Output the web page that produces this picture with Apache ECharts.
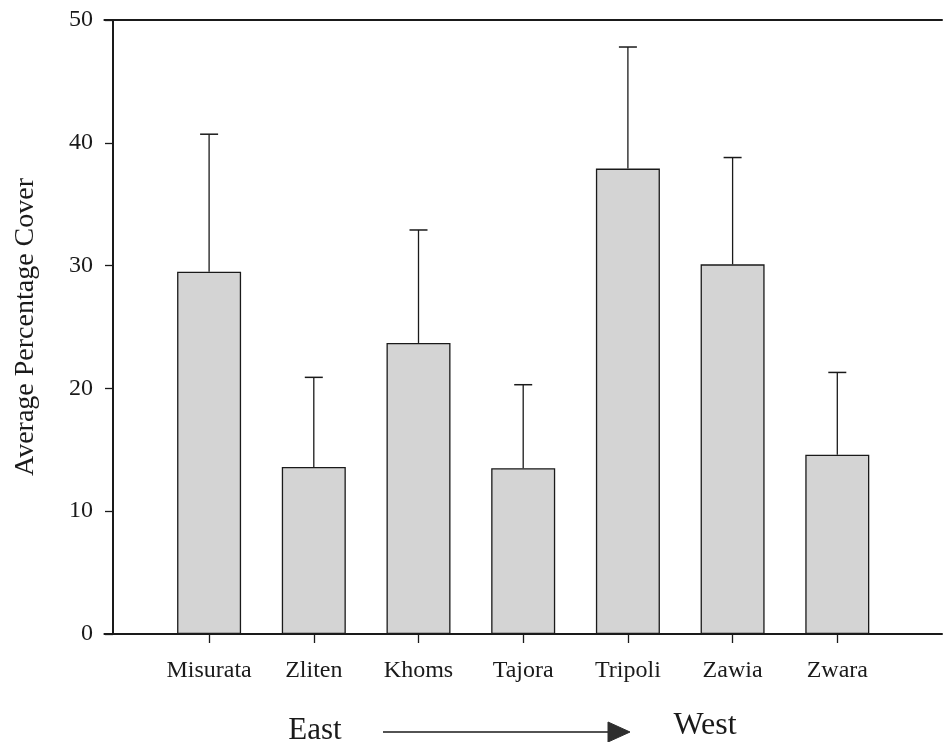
<!DOCTYPE html>
<html>
<head>
<meta charset="utf-8">
<title>Average Percentage Cover by Site</title>
<script src="https://cdn.jsdelivr.net/npm/echarts@6/dist/echarts.min.js"></script>
<style>
  html, body { margin: 0; padding: 0; background: #fff; }
  #chart { width: 945px; height: 742px; }
</style>
</head>
<body>
<div id="chart"></div>
<script>
// Sites ordered east to west along the coast
const sites = ['Misurata', 'Zliten', 'Khoms', 'Tajora', 'Tripoli', 'Zawia', 'Zwara'];
// Mean percentage cover per site
const meanCover = [29.5, 13.6, 23.7, 13.5, 37.9, 30.1, 14.6];
// Upper error (one standard deviation above the mean)
const errorSize = [11.2, 7.3, 9.2, 6.8, 9.9, 8.7, 6.7];
// Y-axis tick values
const yTicks = [0, 10, 20, 30, 40, 50];

// Padding slots at both ends so the first and last sites sit inside the frame
const categories = [''].concat(sites, ['']);
const barData = ['-'].concat(meanCover, ['-']);
const errData = sites.map((s, i) => [i + 1, meanCover[i], meanCover[i] + errorSize[i]]);

const serif = '"Liberation Serif", "Times New Roman", serif';
const ink = '#1a1a1a';

const chart = echarts.init(document.getElementById('chart'), null, { renderer: 'canvas' });

chart.setOption({
  backgroundColor: '#ffffff',
  animation: false,
  grid: { left: 104.4, right: -4.8, top: 20, bottom: 108, containLabel: false },
  xAxis: [
    {
      type: 'category',
      data: categories,
      boundaryGap: false,
      axisLine: { lineStyle: { color: ink, width: 2 } },
      axisTick: {
        length: 9,
        lineStyle: { color: ink, width: 1.3 },
        interval: (idx) => idx >= 1 && idx <= sites.length
      },
      axisLabel: {
        interval: 0,
        margin: 25,
        color: ink,
        fontFamily: serif,
        fontSize: 24
      },
      splitLine: { show: false }
    },
    {
      type: 'category',
      data: categories,
      position: 'top',
      boundaryGap: false,
      axisLine: { onZero: false, lineStyle: { color: ink, width: 2 } },
      axisTick: { show: false },
      axisLabel: { show: false },
      splitLine: { show: false }
    }
  ],
  yAxis: {
    type: 'value',
    min: yTicks[0],
    max: yTicks[yTicks.length - 1],
    interval: yTicks[1] - yTicks[0],
    offset: -8.6,
    axisLine: { show: true, lineStyle: { color: ink, width: 2 } },
    axisTick: { show: true, length: 8, lineStyle: { color: ink, width: 1.3 } },
    axisLabel: { margin: 20, color: ink, fontFamily: serif, fontSize: 24 },
    splitLine: { show: false },
    name: 'Average Percentage Cover',
    nameLocation: 'middle',
    nameGap: 73,
    nameTextStyle: { color: ink, fontFamily: serif, fontSize: 28 }
  },
  series: [
    {
      type: 'bar',
      data: barData,
      barWidth: 64,
      itemStyle: { color: '#d4d4d4', borderColor: ink, borderWidth: 1.3 },
      z: 2
    },
    {
      type: 'custom',
      data: errData,
      z: 3,
      renderItem: function (params, api) {
        const x = api.value(0);
        const base = api.coord([x, api.value(1)]);
        const top = api.coord([x, api.value(2)]);
        const cap = 9;
        return {
          type: 'group',
          children: [
            {
              type: 'line',
              shape: { x1: base[0], y1: base[1], x2: top[0], y2: top[1] },
              style: { stroke: ink, lineWidth: 1.3 }
            },
            {
              type: 'line',
              shape: { x1: top[0] - cap, y1: top[1], x2: top[0] + cap, y2: top[1] },
              style: { stroke: ink, lineWidth: 1.5 }
            }
          ]
        };
      }
    }
  ],
  graphic: [
    {
      type: 'text',
      x: 315, y: 731,
      style: { text: 'East', font: '31px ' + serif, fill: ink, align: 'center', verticalAlign: 'middle' }
    },
    {
      type: 'text',
      x: 705, y: 726,
      style: { text: 'West', font: '32px ' + serif, fill: ink, align: 'center', verticalAlign: 'middle' }
    },
    {
      type: 'line',
      shape: { x1: 383, y1: 732, x2: 610, y2: 732 },
      style: { stroke: ink, lineWidth: 1.5 }
    },
    {
      type: 'polygon',
      shape: { points: [[608, 722], [630, 732], [608, 742]] },
      style: { fill: '#2e2e2e', stroke: '#2e2e2e', lineWidth: 1 }
    }
  ]
});
</script>
</body>
</html>
